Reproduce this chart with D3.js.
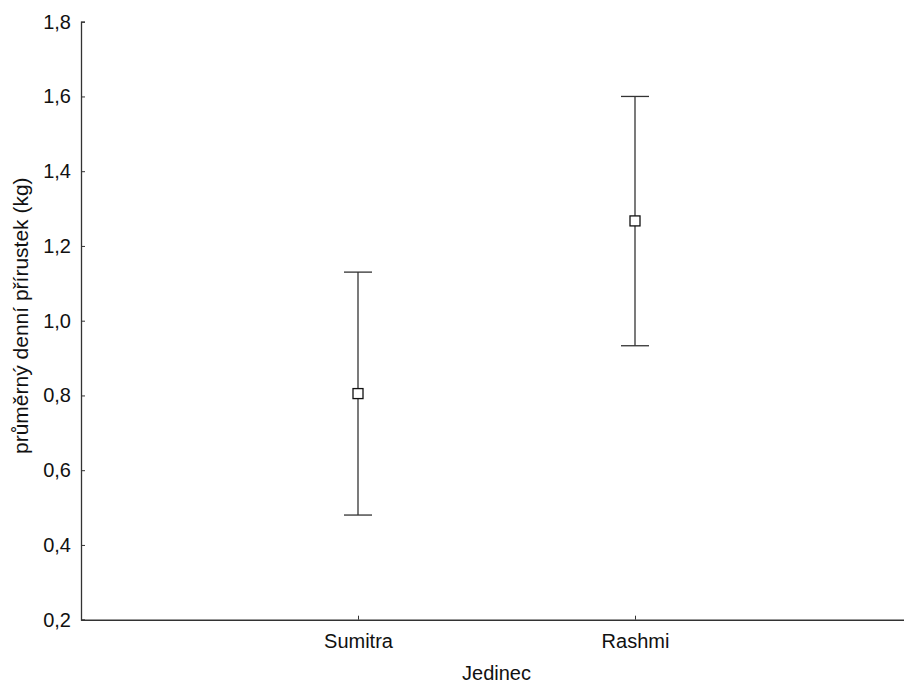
<!DOCTYPE html>
<html>
<head>
<meta charset="utf-8">
<script src="https://cdn.jsdelivr.net/npm/d3@7"></script>
<style>
  body { margin: 0; background: #fff; }
  svg { display: block; font-family: "Liberation Sans", Arial, sans-serif; }
</style>
</head>
<body>
<svg class="chart"></svg>
<script>
// data
var categories = ["Sumitra", "Rashmi"];
var means = [0.805, 1.267];
var upper = [1.13, 1.60];
var lower = [0.48, 0.933];
var yTicks = [0.2, 0.4, 0.6, 0.8, 1.0, 1.2, 1.4, 1.6, 1.8];

var width = 904, height = 684;
var plotLeft = 81, plotRight = 912, plotTop = 21.7, plotBottom = 619.7;
var ink = "#333";
var fontSize = "20px";

var svg = d3.select(".chart").attr("width", width).attr("height", height);

var xScale = d3.scalePoint().domain(categories).range([plotLeft, plotRight]).padding(1);
var yScale = d3.scaleLinear().domain([0.2, 1.8]).range([plotBottom, plotTop]);

var fmt = function(d) { return d3.format(".1f")(d).replace(".", ","); };

// y axis, ticks point inward
var yAxis = d3.axisRight(yScale).tickValues(yTicks).tickSize(4).tickFormat(fmt);
var gy = svg.append("g").attr("transform", `translate(${plotLeft},0)`).call(yAxis);
gy.select(".domain").attr("stroke", ink).attr("stroke-width", 1.3);
gy.selectAll(".tick line").attr("stroke", ink);
gy.selectAll(".tick text")
  .attr("x", -10).attr("text-anchor", "end")
  .attr("fill", "#111").style("font-size", fontSize);

// x axis, ticks point up
var xAxis = d3.axisTop(xScale).tickSize(4).tickSizeOuter(0);
var gx = svg.append("g").attr("transform", `translate(0,${plotBottom})`).call(xAxis);
gx.select(".domain").attr("stroke", ink).attr("stroke-width", 1.6);
gx.selectAll(".tick line").attr("stroke", ink);
gx.selectAll(".tick text")
  .attr("y", 28).attr("dy", "0")
  .attr("fill", "#111").style("font-size", fontSize);

// axis titles
svg.append("text")
  .attr("x", (plotLeft + plotRight) / 2).attr("y", 680)
  .attr("text-anchor", "middle").attr("fill", "#111").style("font-size", fontSize)
  .text("Jedinec");

svg.append("text")
  .attr("transform", `translate(28,${(plotTop + plotBottom) / 2 - 5}) rotate(-90)`)
  .attr("text-anchor", "middle").attr("fill", "#111").style("font-size", "21px")
  .text("průměrný denní přírustek (kg)");

// error bars
var rows = categories.map(function(c, i) {
  return { cat: c, mean: means[i], hi: upper[i], lo: lower[i] };
});

var bars = svg.selectAll("g.err").data(rows).enter().append("g").attr("class", "err");

bars.append("line")
  .attr("x1", d => xScale(d.cat)).attr("x2", d => xScale(d.cat))
  .attr("y1", d => yScale(d.hi)).attr("y2", d => yScale(d.lo))
  .attr("stroke", ink).attr("stroke-width", 1.3);

["hi", "lo"].forEach(function(k) {
  bars.append("line")
    .attr("x1", d => xScale(d.cat) - 14).attr("x2", d => xScale(d.cat) + 14)
    .attr("y1", d => yScale(d[k])).attr("y2", d => yScale(d[k]))
    .attr("stroke", ink).attr("stroke-width", 1.3);
});

bars.append("rect")
  .attr("x", d => xScale(d.cat) - 5).attr("y", d => yScale(d.mean) - 5)
  .attr("width", 10).attr("height", 10)
  .attr("fill", "#fff").attr("stroke", "#111").attr("stroke-width", 1.3);
</script>
</body>
</html>
